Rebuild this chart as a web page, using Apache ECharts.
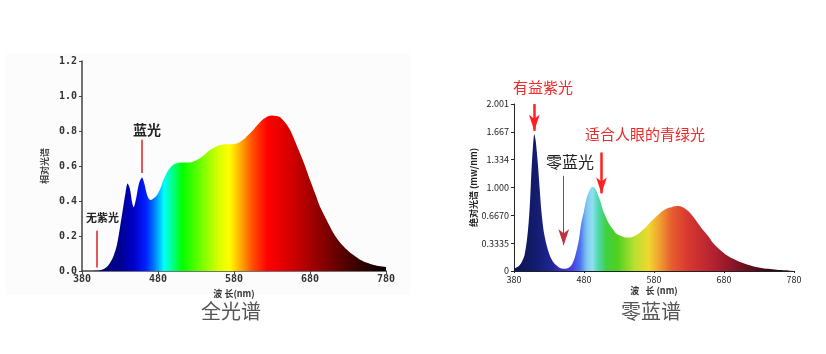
<!DOCTYPE html>
<html>
<head>
<meta charset="utf-8">
<script src="https://cdn.jsdelivr.net/npm/echarts@6/dist/echarts.min.js"></script>
<style>
  html, body { margin: 0; padding: 0; background: #fff; }
  #chart { width: 826px; height: 354px; }
</style>
</head>
<body>
<div id="chart"></div>
<script>
// 全光谱 (left)
const fullNm = [380, 400, 408, 415, 421, 426, 430, 434, 437, 440, 443, 446, 448, 451, 455, 459, 462, 466, 470, 474, 478, 483, 487, 492, 496, 500, 504, 512, 522, 531, 540, 548, 556, 562, 570, 579, 586, 592, 598, 605, 612, 619, 625, 630, 636, 641, 648, 654, 660, 667, 674, 680, 687, 693, 702, 711, 720, 729, 738, 746, 755, 764, 772, 780];
const fullVal = [0, 0.002, 0.01, 0.035, 0.08, 0.15, 0.25, 0.36, 0.44, 0.50, 0.47, 0.39, 0.365, 0.41, 0.50, 0.535, 0.50, 0.43, 0.406, 0.415, 0.43, 0.47, 0.52, 0.565, 0.59, 0.607, 0.615, 0.62, 0.62, 0.634, 0.66, 0.69, 0.71, 0.72, 0.724, 0.725, 0.733, 0.75, 0.775, 0.805, 0.84, 0.87, 0.885, 0.889, 0.886, 0.877, 0.845, 0.805, 0.745, 0.672, 0.595, 0.52, 0.44, 0.368, 0.29, 0.216, 0.16, 0.12, 0.088, 0.065, 0.047, 0.034, 0.027, 0.023];
const fullYTicks = ['0.0', '0.2', '0.4', '0.6', '0.8', '1.0', '1.2'];

// 零蓝谱 (right)
const zeroNm = [380, 388, 395, 400, 403, 405, 407, 409, 411, 414, 417, 419, 422, 426, 431, 436, 441, 445, 452, 458, 462, 466, 469, 473, 476, 480, 483, 487, 492, 496, 500, 504, 507, 512, 517, 522, 526, 533, 541, 548, 555, 562, 569, 578, 588, 596, 603, 612, 618, 624, 630, 636, 643, 650, 658, 665, 675, 684, 696, 708, 720, 731, 743, 755, 768, 780];
const zeroVal = [0.028, 0.068, 0.19, 0.49, 0.85, 1.21, 1.48, 1.64, 1.56, 1.29, 0.95, 0.73, 0.50, 0.33, 0.19, 0.108, 0.065, 0.04, 0.028, 0.04, 0.068, 0.14, 0.23, 0.39, 0.57, 0.72, 0.85, 0.95, 1.01, 0.99, 0.91, 0.82, 0.73, 0.63, 0.55, 0.49, 0.45, 0.42, 0.40, 0.405, 0.43, 0.475, 0.53, 0.61, 0.69, 0.74, 0.76, 0.78, 0.775, 0.75, 0.71, 0.65, 0.57, 0.49, 0.41, 0.33, 0.25, 0.19, 0.135, 0.092, 0.06, 0.04, 0.026, 0.016, 0.009, 0.005];
const zeroYTicks = ['0', '0.3335', '0.6670', '1.000', '1.334', '1.667', '2.001'];

const toPairs = (xs, ys) => xs.map((x, i) => [x, ys[i]]);

const fullColors = new echarts.graphic.LinearGradient(0, 0, 1, 0, [
  { offset: 0.0, color: '#000066' },
  { offset: 0.12, color: '#00008c' },
  { offset: 0.17, color: '#0000c8' },
  { offset: 0.21, color: '#0020ff' },
  { offset: 0.235, color: '#0070ff' },
  { offset: 0.255, color: '#00c0ff' },
  { offset: 0.27, color: '#00ffff' },
  { offset: 0.30, color: '#00ff80' },
  { offset: 0.33, color: '#00ff00' },
  { offset: 0.40, color: '#80ff00' },
  { offset: 0.45, color: '#d8ff00' },
  { offset: 0.485, color: '#ffff00' },
  { offset: 0.52, color: '#ffb000' },
  { offset: 0.56, color: '#ff5000' },
  { offset: 0.61, color: '#ff0000' },
  { offset: 0.68, color: '#d80000' },
  { offset: 0.78, color: '#900000' },
  { offset: 0.88, color: '#480000' },
  { offset: 1.0, color: '#000000' }
]);

const zeroColors = new echarts.graphic.LinearGradient(0, 0, 1, 0, [
  { offset: 0.0, color: '#0a1550' },
  { offset: 0.08, color: '#141c70' },
  { offset: 0.13, color: '#1e2590' },
  { offset: 0.17, color: '#3a2cc8' },
  { offset: 0.21, color: '#4a40e0' },
  { offset: 0.235, color: '#4a70f0' },
  { offset: 0.26, color: '#80c8f0' },
  { offset: 0.28, color: '#90e0f0' },
  { offset: 0.30, color: '#50d8b0' },
  { offset: 0.33, color: '#40d040' },
  { offset: 0.37, color: '#50d020' },
  { offset: 0.43, color: '#b8e030' },
  { offset: 0.48, color: '#f0d830' },
  { offset: 0.52, color: '#f0a030' },
  { offset: 0.56, color: '#e86030' },
  { offset: 0.62, color: '#d83830' },
  { offset: 0.72, color: '#b02030' },
  { offset: 0.82, color: '#701020' },
  { offset: 0.92, color: '#300818' },
  { offset: 1.0, color: '#200410' }
]);

const tickFont = { fontFamily: 'DejaVu Sans Mono', fontWeight: 'bold', fontSize: 10, color: '#333' };
const tickFont2 = { fontFamily: 'Noto Sans CJK SC', fontSize: 9, color: '#222' };
const arrowRed = '#e02020';

let myChart = echarts.init(document.getElementById('chart'));
myChart.setOption({
  animation: false,
  grid: [
    { left: 82, top: 61, right: 440, bottom: 83 },
    { left: 514, top: 104, width: 280, bottom: 83 }
  ],
  xAxis: [
    {
      gridIndex: 0, type: 'value', min: 380, max: 780, interval: 100,
      name: '波 长(nm)', nameLocation: 'middle', nameGap: 11,
      nameTextStyle: { fontFamily: 'Noto Sans CJK SC', fontWeight: 'bold', fontSize: 9, color: '#333' },
      axisLine: { lineStyle: { color: '#444', width: 1.5 } },
      axisTick: { length: 3, lineStyle: { color: '#444' } },
      axisLabel: Object.assign({ margin: 3 }, tickFont),
      splitLine: { show: false }
    },
    {
      gridIndex: 1, type: 'value', min: 380, max: 780, interval: 100,
      name: '波   长 (nm)', nameLocation: 'middle', nameGap: 15,
      nameTextStyle: { fontFamily: 'Noto Sans CJK SC', fontWeight: 'bold', fontSize: 9, color: '#333' },
      axisLine: { lineStyle: { color: '#222', width: 1 } },
      axisTick: { length: 2, lineStyle: { color: '#222' } },
      axisLabel: Object.assign({ margin: 4 }, tickFont2),
      splitLine: { show: false }
    }
  ],
  yAxis: [
    {
      gridIndex: 0, type: 'value', min: 0, max: 1.2, interval: 0.2,
      name: '相对光谱', nameLocation: 'middle', nameGap: 33, nameRotate: 90,
      nameTextStyle: { fontFamily: 'Noto Sans CJK SC', fontWeight: 'bold', fontSize: 9, color: '#444' },
      axisLine: { show: true, lineStyle: { color: '#444', width: 1.5 } },
      axisTick: { show: true, length: 3, lineStyle: { color: '#444' } },
      axisLabel: Object.assign({ margin: 5, formatter: v => fullYTicks[Math.round(v / 0.2)] }, tickFont),
      splitLine: { show: false }
    },
    {
      gridIndex: 1, type: 'value', min: 0, max: 2.001, interval: 0.3335,
      name: '绝对光谱 (mw/nm)', nameLocation: 'middle', nameGap: 36, nameRotate: 90,
      nameTextStyle: { fontFamily: 'Noto Sans CJK SC', fontWeight: 'bold', fontSize: 9, color: '#222' },
      axisLine: { show: true, lineStyle: { color: '#222', width: 1 } },
      axisTick: { show: true, length: 3, lineStyle: { color: '#222' } },
      axisLabel: Object.assign({ margin: 5, formatter: v => zeroYTicks[Math.round(v / 0.3335)] }, tickFont2),
      splitLine: { show: false }
    }
  ],
  series: [
    {
      type: 'line', xAxisIndex: 0, yAxisIndex: 0,
      data: toPairs(fullNm, fullVal),
      smooth: 0.3, showSymbol: false, silent: true,
      lineStyle: { width: 0 },
      areaStyle: { color: fullColors, opacity: 1 },
      markLine: {
        silent: true, symbol: ['none', 'arrow'], symbolSize: [0, 7],
        lineStyle: { color: arrowRed, width: 1.5, type: 'solid' },
        label: { show: false },
        data: [
          [{ coord: [400, 0.23] }, { coord: [400, 0.02] }],
          [{ coord: [459, 0.75] }, { coord: [459, 0.56] }]
        ]
      }
    },
    {
      type: 'line', xAxisIndex: 1, yAxisIndex: 1,
      data: toPairs(zeroNm, zeroVal),
      smooth: 0.3, showSymbol: false, silent: true,
      lineStyle: { width: 0 },
      areaStyle: { color: zeroColors, opacity: 1 },
      markLine: {
        silent: true, symbol: ['none', 'arrow'],
        lineStyle: { type: 'solid' },
        label: { show: false },
        data: [
          [{ coord: [409, 2.0], lineStyle: { color: '#ff2020', width: 2.5, type: 'solid' }, symbolSize: [0, 11] },
           { coord: [409, 1.68] }],
          [{ coord: [505, 1.42], lineStyle: { color: '#ff2020', width: 2.5, type: 'solid' }, symbolSize: [0, 11] },
           { coord: [505, 0.93] }],
          [{ coord: [451, 1.14], lineStyle: { color: '#c03040', width: 1, type: 'solid' }, symbolSize: [0, 7] },
           { coord: [451, 0.31] }]
        ]
      }
    }
  ],
  graphic: [
    { type: 'rect', z: -10, shape: { x: 6, y: 53, width: 404, height: 242 }, style: { fill: '#fcfcfc' } },
    { type: 'text', left: 133, top: 123, style: { text: '蓝光', font: 'bold 14px "Noto Sans CJK SC"', fill: '#222' } },
    { type: 'text', left: 86, top: 212, style: { text: '无紫光', font: 'bold 11px "Noto Sans CJK SC"', fill: '#222' } },
    { type: 'text', left: 513, top: 80, style: { text: '有益紫光', font: '15px "Noto Sans CJK SC"', fill: '#f02828' } },
    { type: 'text', left: 585, top: 127, style: { text: '适合人眼的青绿光', font: '15px "Noto Sans CJK SC"', fill: '#f02828' } },
    { type: 'text', left: 546, top: 154, style: { text: '零蓝光', font: '16px "Noto Sans CJK SC"', fill: '#222' } },
    { type: 'text', left: 201, top: 301, style: { text: '全光谱', font: '20px "Noto Sans CJK SC"', fill: '#555' } },
    { type: 'text', left: 621, top: 301, style: { text: '零蓝谱', font: '20px "Noto Sans CJK SC"', fill: '#555' } }
  ]
});
</script>
</body>
</html>
